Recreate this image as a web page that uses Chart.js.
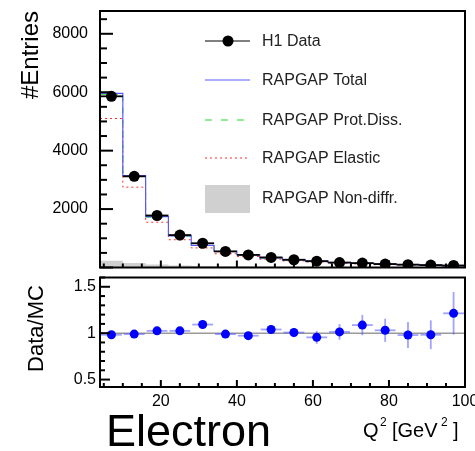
<!DOCTYPE html>
<html><head><meta charset="utf-8">
<script src="https://cdn.jsdelivr.net/npm/chart.js@4.4.0/dist/chart.umd.min.js"></script>
<style>
html,body{margin:0;padding:0;background:#fff;}
#wrap{position:relative;width:475px;height:451px;overflow:hidden;font-family:"Liberation Sans",Arial,Helvetica,sans-serif;}
#c1{position:absolute;left:0;top:0;}
#c2{position:absolute;left:0;top:273px;}
#electron{position:absolute;left:106px;top:408px;font-size:45px;line-height:45px;color:#000;white-space:nowrap;z-index:2;}
</style></head>
<body><div id="wrap">
<canvas id="c1" width="475" height="273"></canvas>
<canvas id="c2" width="475" height="178"></canvas>
<div id="electron">Electron</div>
</div>
<script>
// ---- data ----
const binEdges = [4,10,16,22,28,34,40,46,52,58,64,70,76,82,88,94,100];
const binCenters = [7,13,19,25,31,37,43,49,55,61,67,73,79,85,91,97];
const h1Data = [5860,3120,1780,1110,830,550,430,345,265,215,170,150,118,98,82,70];
const rapgapTotal = [5960,3150,1740,1085,760,555,442,332,263,225,168,138,114,100,83,58];
const rapgapProtDiss = [5930,3130,1725,1075,752,550,438,329,261,223,166,137,113,99,82,57];
const rapgapElastic = [5100,2750,1550,950,670,470,375,285,225,190,143,118,97,85,70,50];
const rapgapNonDiffr = [230,150,100,70,50,38,30,24,20,17,14,12,10,9,8,7];
const ratio = [0.983,0.99,1.025,1.025,1.093,0.99,0.973,1.04,1.007,0.955,1.014,1.087,1.031,0.98,0.983,1.214];
const ratioErr = [0.012,0.015,0.02,0.022,0.03,0.035,0.04,0.045,0.05,0.07,0.085,0.11,0.125,0.14,0.155,0.23];
const yTicksTop = [2000,4000,6000,8000];
const yTicksRatio = [0.5,1,1.5];
const xTicks = [20,40,60,80,100];
const legendLabels = ['H1 Data','RAPGAP Total','RAPGAP Prot.Diss.','RAPGAP Elastic','RAPGAP Non-diffr.'];

const FONT = "'Liberation Sans', Arial, Helvetica, sans-serif";
Chart.defaults.font.family = FONT;
Chart.defaults.color = '#000';

const stepPts = vals => binEdges.map((e,i)=>({x:e, y: vals[Math.min(i, vals.length-1)]}));

function tickSeg(ctx, x1, y1, x2, y2) {
  ctx.beginPath(); ctx.moveTo(x1, y1); ctx.lineTo(x2, y2); ctx.stroke();
}

function drawFrameTicks(ctx, a, sx, sy, yMajor, yMinorStep, yMajLen, yMinLen, yMin, yMax) {
  ctx.save();
  ctx.setLineDash([]);
  ctx.lineCap = 'butt';
  ctx.strokeStyle = '#000';
  ctx.lineWidth = 2;
  const start = Math.ceil(yMin / yMinorStep - 1e-6);
  const stop = Math.floor(yMax / yMinorStep + 1e-6);
  for (let k = start; k <= stop; k++) {
    const v = k * yMinorStep;
    const py = sy.getPixelForValue(v);
    const isMaj = yMajor.some(m => Math.abs(m - v) < 1e-6);
    tickSeg(ctx, a.left, py, a.left + (isMaj ? yMajLen : yMinLen), py);
  }
  for (let v = 5; v < 100; v += 5) {
    const px = sx.getPixelForValue(v);
    tickSeg(ctx, px, a.bottom, px, a.bottom - ((v % 20 === 0) ? 7 : 4));
  }
  ctx.lineWidth = 2;
  ctx.strokeRect(a.left, a.top, a.right - a.left, a.bottom - a.top);
  ctx.restore();
}

const topPlugin = {
  id: 'topDeco',
  afterDatasetsDraw(chart) {
    const {ctx} = chart;
    const sx = chart.scales.x, sy = chart.scales.y;
    ctx.save();
    ctx.setLineDash([]);
    ctx.strokeStyle = '#000'; ctx.lineWidth = 1.8;
    binCenters.forEach((c,i) => {
      const py = sy.getPixelForValue(h1Data[i]);
      tickSeg(ctx, sx.getPixelForValue(binEdges[i]), py, sx.getPixelForValue(binEdges[i+1]), py);
    });
    ctx.restore();
  },
  afterDraw(chart) {
    const {ctx, chartArea:a} = chart;
    const sx = chart.scales.x, sy = chart.scales.y;
    drawFrameTicks(ctx, a, sx, sy, [0,2000,4000,6000,8000], 500, 13, 7, 0, 8780);
    ctx.save();
    ctx.fillStyle = '#000';
    ctx.font = '24px ' + FONT;
    ctx.translate(38, 11);
    ctx.rotate(-Math.PI/2);
    ctx.textAlign = 'right'; ctx.textBaseline = 'alphabetic';
    ctx.fillText('#Entries', 0, 0);
    ctx.restore();
    // legend
    ctx.save();
    const rows = [41, 80, 120, 158, 198];
    const x0 = 205, x1 = 250, tx = 262;
    ctx.font = '16px ' + FONT;
    ctx.textBaseline = 'middle'; ctx.textAlign = 'left';
    ctx.strokeStyle = '#000'; ctx.lineWidth = 1;
    tickSeg(ctx, x0, rows[0], x1, rows[0]);
    ctx.beginPath(); ctx.arc(228, rows[0], 5.5, 0, Math.PI*2); ctx.fillStyle = '#000'; ctx.fill();
    ctx.strokeStyle = '#5a5aff'; ctx.lineWidth = 1.2;
    tickSeg(ctx, x0, rows[1], x1, rows[1]);
    ctx.strokeStyle = '#22dd22'; ctx.lineWidth = 1; ctx.setLineDash([7,9]);
    tickSeg(ctx, x0, rows[2], x1, rows[2]);
    ctx.strokeStyle = '#ff3030'; ctx.setLineDash([2,3]);
    tickSeg(ctx, x0, rows[3], x1, rows[3]);
    ctx.setLineDash([]);
    ctx.fillStyle = '#d0d0d0';
    ctx.fillRect(x0, 185, x1 - x0, 28);
    ctx.fillStyle = '#222';
    legendLabels.forEach((t,i) => ctx.fillText(t, tx, rows[i] + 1));
    ctx.restore();
  }
};

const ratioPlugin = {
  id: 'ratioDeco',
  beforeDatasetsDraw(chart) {
    const {ctx, chartArea:a} = chart;
    const sx = chart.scales.x, sy = chart.scales.y;
    ctx.save();
    ctx.setLineDash([]);
    ctx.strokeStyle = '#9a9a9a'; ctx.lineWidth = 1.5;
    const p1 = sy.getPixelForValue(1);
    tickSeg(ctx, a.left, p1, a.right, p1);
    ctx.strokeStyle = 'rgba(70,70,255,0.5)'; ctx.lineWidth = 1.8;
    binCenters.forEach((c,i) => {
      const px = sx.getPixelForValue(c), py = sy.getPixelForValue(ratio[i]);
      tickSeg(ctx, sx.getPixelForValue(binEdges[i]) + 1, py, sx.getPixelForValue(binEdges[i+1]) - 1, py);
      tickSeg(ctx, px, sy.getPixelForValue(ratio[i] + ratioErr[i]), px, sy.getPixelForValue(ratio[i] - ratioErr[i]));
    });
    ctx.restore();
  },
  afterDraw(chart) {
    const {ctx, chartArea:a} = chart;
    const sx = chart.scales.x, sy = chart.scales.y;
    drawFrameTicks(ctx, a, sx, sy, [0.5,1,1.5], 0.1, 10, 5, 0.42, 1.6);
    ctx.save();
    ctx.fillStyle = '#000';
    ctx.font = '22px ' + FONT;
    ctx.save();
    ctx.translate(43, 55.5);
    ctx.rotate(-Math.PI/2);
    ctx.textAlign = 'center'; ctx.textBaseline = 'alphabetic';
    ctx.fillText('Data/MC', 0, 0);
    ctx.restore();
    ctx.textAlign = 'left'; ctx.textBaseline = 'alphabetic';
    ctx.font = '20px ' + FONT;
    ctx.fillText('Q', 363, 164);
    ctx.fillText('[GeV', 392, 164);
    ctx.fillText(']', 453, 164);
    ctx.font = '12px ' + FONT;
    ctx.fillText('2', 380, 153);
    ctx.fillText('2', 441, 153);
    ctx.restore();
  }
};

const numLabel = v => String(v);

new Chart(document.getElementById('c1'), {
  type: 'line',
  data: { datasets: [
    { label: legendLabels[0], data: binCenters.map((x,i)=>({x, y:h1Data[i]})), showLine:false,
      pointRadius:5.5, pointBackgroundColor:'#000', pointBorderColor:'#000', pointBorderWidth:0, order:0 },
    { label: legendLabels[1], data: stepPts(rapgapTotal), stepped:true, borderColor:'#5a5aff', borderWidth:1.2, pointRadius:0, fill:false, order:1 },
    { label: legendLabels[2], data: stepPts(rapgapProtDiss), stepped:true, borderColor:'#22dd22', borderWidth:1, borderDash:[6,6], pointRadius:0, fill:false, order:2 },
    { label: legendLabels[3], data: stepPts(rapgapElastic), stepped:true, borderColor:'#ff3030', borderWidth:1, borderDash:[2,3], pointRadius:0, fill:false, order:3 },
    { label: legendLabels[4], data: stepPts(rapgapNonDiffr), stepped:true, borderColor:'rgba(0,0,0,0)', borderWidth:0, backgroundColor:'#d0d0d0', pointRadius:0, fill:'origin', order:4 }
  ]},
  options: {
    responsive:false, animation:false, devicePixelRatio:1,
    layout:{padding:{left:0, right:10, top:11, bottom:0}},
    plugins:{legend:{display:false}, tooltip:{enabled:false}},
    scales:{
      x:{type:'linear', min:4, max:100, display:false},
      y:{type:'linear', min:0, max:8780,
         afterFit(s){ s.width = 100; s.paddingTop = 0; s.paddingBottom = 0; },
         afterBuildTicks(s){ s.ticks = yTicksTop.map(v=>({value:v})); },
         grid:{display:false, drawTicks:false}, border:{display:false},
         ticks:{padding:12, color:'#000', font:{size:16}, callback:numLabel}}
    }
  },
  plugins:[topPlugin]
});

new Chart(document.getElementById('c2'), {
  type: 'line',
  data: { datasets: [
    { label:'Data/MC', data: binCenters.map((x,i)=>({x, y:ratio[i]})), showLine:false,
      pointRadius:4.5, pointBackgroundColor:'#0000ff', pointBorderColor:'#0000ff', pointBorderWidth:0 }
  ]},
  options: {
    responsive:false, animation:false, devicePixelRatio:1,
    layout:{padding:{left:0, right:10, top:0, bottom:0}},
    plugins:{legend:{display:false}, tooltip:{enabled:false}},
    scales:{
      x:{type:'linear', min:4, max:100,
         afterFit(s){ s.height = 64; s.paddingLeft = 0; s.paddingRight = 0; },
         afterBuildTicks(s){ s.ticks = xTicks.map(v=>({value:v})); },
         grid:{display:false, drawTicks:false}, border:{display:false},
         ticks:{padding:5, maxRotation:0, autoSkip:false, color:'#000', font:{size:16}, callback:numLabel}},
      y:{type:'linear', min:0.42, max:1.6,
         afterFit(s){ s.width = 100; s.paddingTop = 0; s.paddingBottom = 0; },
         afterBuildTicks(s){ s.ticks = yTicksRatio.map(v=>({value:v})); },
         grid:{display:false, drawTicks:false}, border:{display:false},
         ticks:{padding:4, color:'#000', font:{size:16}, callback:numLabel}}
    }
  },
  plugins:[ratioPlugin]
});
</script>
</body></html>
